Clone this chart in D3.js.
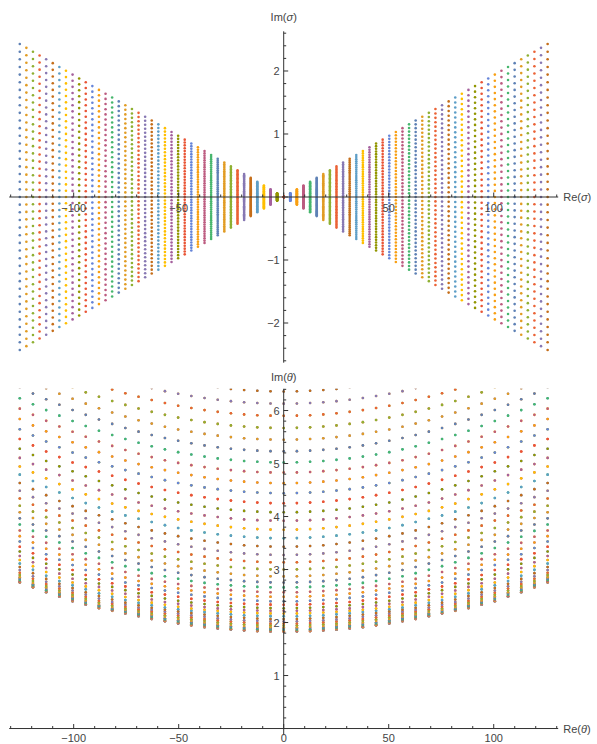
<!DOCTYPE html>
<html>
<head>
<meta charset="utf-8">
<script src="https://cdn.jsdelivr.net/npm/d3@7"></script>
<style>
  html, body { margin: 0; padding: 0; background: #fff; }
  svg { display: block; }
  text { font-family: "Liberation Sans", Arial, sans-serif; font-size: 11px; fill: #444; }
</style>
</head>
<body>
<svg id="chart" width="597" height="744"></svg>
<script>
// Series k = -40 … 40: in the σ plane every series is a vertical column at Re σ = kπ
const sigmaMultiples = [-40,-39,-38,-37,-36,-35,-34,-33,-32,-31,-30,-29,-28,-27,-26,-25,-24,-23,-22,-21,
  -20,-19,-18,-17,-16,-15,-14,-13,-12,-11,-10,-9,-8,-7,-6,-5,-4,-3,-2,-1,0,
  1,2,3,4,5,6,7,8,9,10,11,12,13,14,15,16,17,18,19,20,
  21,22,23,24,25,26,27,28,29,30,31,32,33,34,35,36,37,38,39,40];
// Half-height of a σ column per unit of k
const sigmaSpreadPerK = 0.0607;
// Sample index inside each series (41 samples); in the θ plane sample n sits at Re θ = 2πn
const sampleSteps = [-20,-19,-18,-17,-16,-15,-14,-13,-12,-11,-10,-9,-8,-7,-6,-5,-4,-3,-2,-1,0,
  1,2,3,4,5,6,7,8,9,10,11,12,13,14,15,16,17,18,19,20];
const samplesPerSide = 20;
// Im θ against the lattice radius √(k² + n²)
const thetaRadius = [0, 2, 4, 6, 8, 10, 12, 14, 16, 18, 20, 21, 22, 23, 24, 25, 26, 27, 28, 29,
  30, 31, 32, 33, 34, 35, 36, 37, 38, 39, 40, 41, 42, 45];
const thetaIm = [1.825, 1.835, 1.863, 1.91, 1.98, 2.065, 2.17, 2.27, 2.40, 2.57, 2.755, 2.87, 3.00,
  3.135, 3.275, 3.43, 3.59, 3.75, 3.92, 4.08, 4.25, 4.44, 4.63, 4.83, 5.02, 5.23, 5.45, 5.67,
  5.90, 6.13, 6.36, 6.60, 6.85, 7.6];

// Tick values
const reTicksMajorTop = [-100, -50, 50, 100];
const reTicksMajorBottom = [-100, -50, 0, 50, 100];
const imSigmaTicksMajor = [-2, -1, 1, 2];
const imThetaTicksMajor = [1, 2, 3, 4, 5, 6];

const palette = ["#5E81B5","#E19C24","#8FB032","#EB6235","#8778B3","#C56E1A","#5D9EC7",
  "#FFBF00","#A5609D","#929600","#E95536","#6685D9","#F89F13","#BC5B80","#47B66D"];

const svg = d3.select("#chart");

const x = d3.scaleLinear().domain([-130.7, 130.7]).range([9.2, 558.2]);
const ySigma = d3.scaleLinear().domain([-2.63, 2.63]).range([362.7, 31.3]);
const yTheta = d3.scaleLinear().domain([-0.126, 6.41]).range([735.2, 388.8]);
const imOfRadius = d3.scaleLinear().domain(thetaRadius).range(thetaIm);

// Build the point sets
const sigmaSeries = sigmaMultiples.map((k, i) => ({
  color: palette[i % palette.length],
  pts: sampleSteps.map(n => [k * Math.PI, sigmaSpreadPerK * Math.abs(k) * n / samplesPerSide])
}));
const thetaSeries = sigmaMultiples.map((k, i) => ({
  color: palette[i % palette.length],
  pts: sampleSteps.map(n => [2 * Math.PI * n, imOfRadius(Math.sqrt(k * k + n * n))])
}));

const defs = svg.append("defs");
defs.append("clipPath").attr("id", "clipTop").append("rect")
  .attr("x", x.range()[0]).attr("y", ySigma.range()[1])
  .attr("width", x.range()[1] - x.range()[0]).attr("height", ySigma.range()[0] - ySigma.range()[1]);
defs.append("clipPath").attr("id", "clipBottom").append("rect")
  .attr("x", x.range()[0]).attr("y", yTheta.range()[1])
  .attr("width", x.range()[1] - x.range()[0]).attr("height", yTheta.range()[0] - yTheta.range()[1]);

function drawPoints(series, yScale, clipId) {
  const g = svg.append("g").attr("clip-path", `url(#${clipId})`);
  series.forEach(s => {
    g.append("g").attr("fill", s.color)
      .selectAll("circle").data(s.pts).join("circle")
      .attr("cx", d => x(d[0])).attr("cy", d => yScale(d[1])).attr("r", 1.3);
  });
}

function fmt(v) { return v < 0 ? "\u2212" + Math.abs(v) : String(v); }

function drawAxes(yScale, yMajor, yMinorStep, xMajor, xLabelDy, imLabelY, greek) {
  const g = svg.append("g").attr("stroke", "#333").attr("stroke-width", 1);
  const y0 = yScale(0), x0 = x(0);
  g.append("line").attr("x1", x.range()[0]).attr("x2", x.range()[1]).attr("y1", y0).attr("y2", y0);
  g.append("line").attr("x1", x0).attr("x2", x0).attr("y1", yScale.range()[0]).attr("y2", yScale.range()[1]);
  // x ticks: minor every 10, major every 50
  const [xd0, xd1] = x.domain();
  for (let v = Math.ceil(xd0 / 10) * 10; v <= xd1; v += 10) {
    const major = v % 50 === 0;
    g.append("line").attr("x1", x(v)).attr("x2", x(v)).attr("y1", y0).attr("y2", y0 - (major ? 4.5 : 2.5));
  }
  // y ticks: minor every yMinorStep, major on integers
  const [yd0, yd1] = yScale.domain();
  const n0 = Math.ceil(yd0 / yMinorStep - 1e-9), n1 = Math.floor(yd1 / yMinorStep + 1e-9);
  for (let n = n0; n <= n1; n++) {
    const v = n * yMinorStep;
    const major = Math.abs(v - Math.round(v)) < 1e-6;
    g.append("line").attr("x1", x0).attr("x2", x0 + (major ? 4.5 : 2.5)).attr("y1", yScale(v)).attr("y2", yScale(v));
  }
  const t = svg.append("g");
  xMajor.forEach(v => t.append("text").attr("x", x(v)).attr("y", y0 + xLabelDy).attr("text-anchor", "middle").text(fmt(v)));
  yMajor.forEach(v => t.append("text").attr("x", x0 - 4).attr("y", yScale(v) + 4).attr("text-anchor", "end").text(fmt(v)));
  const re = t.append("text").attr("x", x.range()[1] + 5).attr("y", y0 + 4);
  re.append("tspan").text("Re(");
  re.append("tspan").attr("font-style", "italic").text(greek);
  re.append("tspan").text(")");
  const im = t.append("text").attr("x", x0).attr("y", imLabelY).attr("text-anchor", "middle");
  im.append("tspan").text("Im(");
  im.append("tspan").attr("font-style", "italic").text(greek);
  im.append("tspan").text(")");
}

drawPoints(sigmaSeries, ySigma, "clipTop");
drawAxes(ySigma, imSigmaTicksMajor, 0.2, reTicksMajorTop, 15, 21, "\u03c3");
drawPoints(thetaSeries, yTheta, "clipBottom");
drawAxes(yTheta, imThetaTicksMajor, 0.2, reTicksMajorBottom, 13, 381, "\u03b8");
</script>
</body>
</html>
